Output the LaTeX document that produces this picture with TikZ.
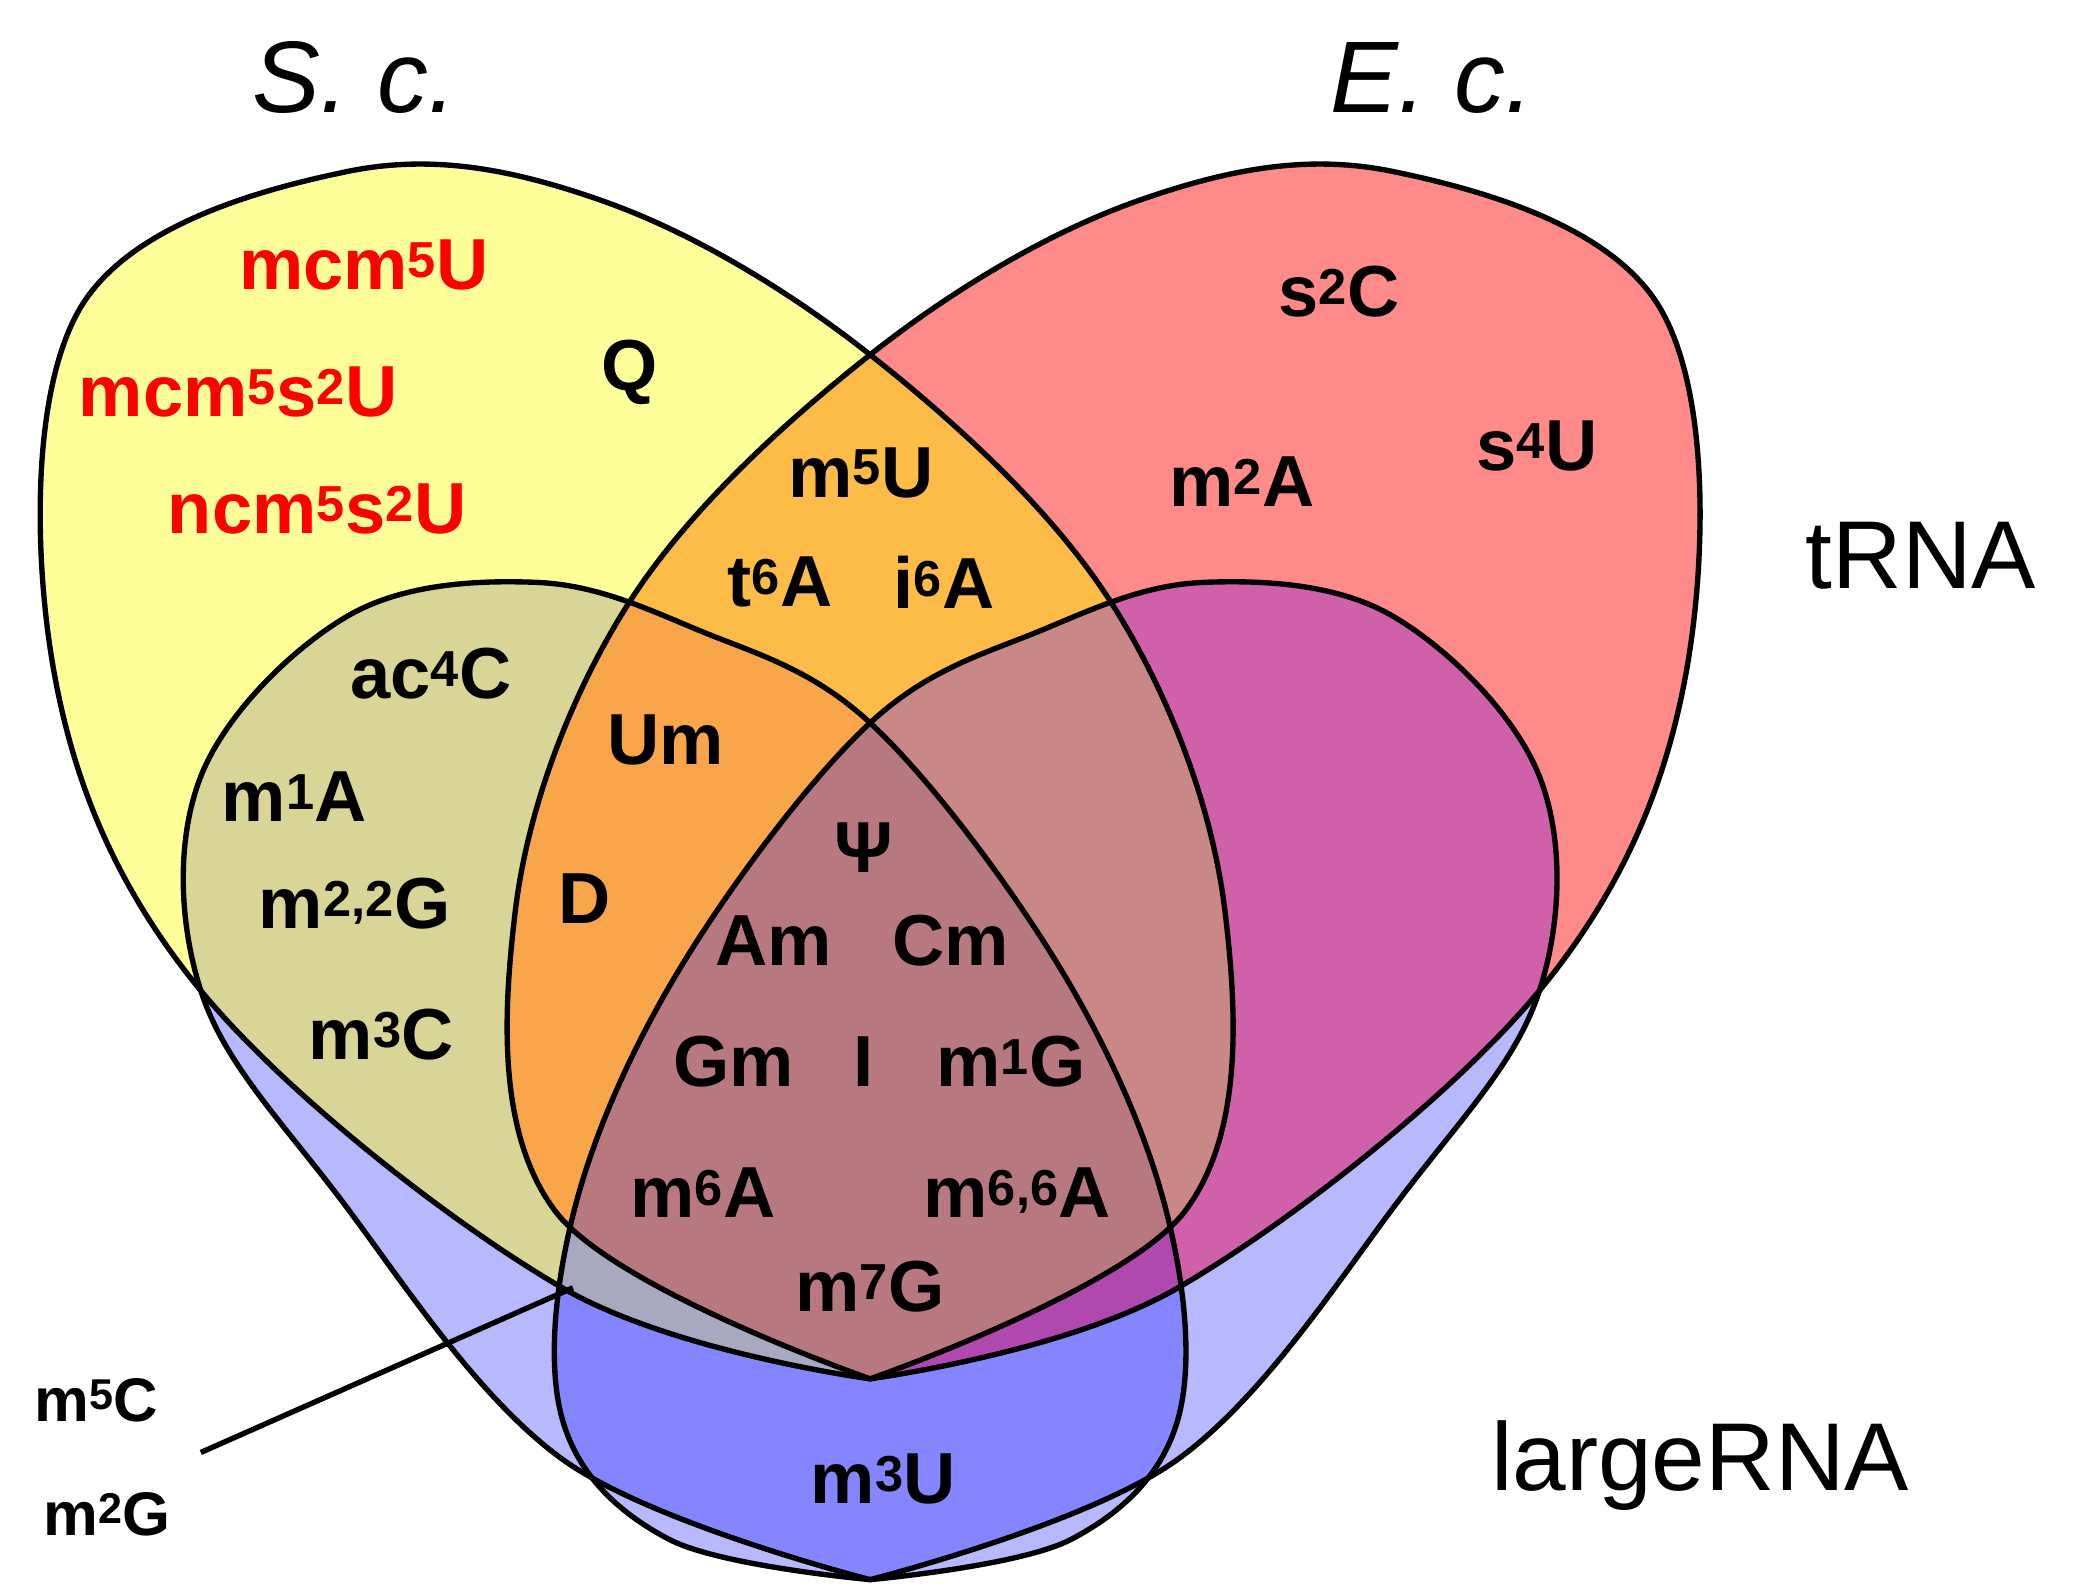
\documentclass[tikz,border=0pt]{standalone}
\usepackage{fontspec}
\setmainfont{Liberation Sans}
\begin{document}
\begin{tikzpicture}[x=1pt,y=-1pt,
  lab/.style={font=\fontsize{54}{60}\selectfont\bfseries,inner sep=0pt},
  redlab/.style={lab,text=red},
  big/.style={font=\fontsize{72}{80}\selectfont,inner sep=0pt},
  outl/.style={draw=black,line width=4pt}]
\useasboundingbox (0,0) rectangle (1568,1186);
\def\pY{plot[smooth,tension=0.6] coordinates {(650,1030) (420,962) (150,740) (40,500) (60,230) (260,128) (450,150) (650,265) (830,450) (915,680) (885,905) (650,1030)} -- cycle}
\def\pR{plot[smooth,tension=0.6] coordinates {(650,1030) (880,962) (1150,740) (1260,500) (1240,230) (1040,128) (850,150) (650,265) (470,450) (385,680) (415,905) (650,1030)} -- cycle}
\def\pS{plot[smooth,tension=0.6] coordinates {(650,1180) (420,1090) (250,890) (150,740) (150,580) (260,460) (400,435) (520,470) (650,540) (790,720) (870,900) (880,1060) (800,1150) (650,1180)} -- cycle}
\def\pE{plot[smooth,tension=0.6] coordinates {(650,1180) (880,1090) (1050,890) (1150,740) (1150,580) (1040,460) (900,435) (780,470) (650,540) (510,720) (430,900) (420,1060) (500,1150) (650,1180)} -- cycle}
\definecolor{cY}{HTML}{FFFF99}
\definecolor{cR}{HTML}{FF8A8A}
\definecolor{cB}{HTML}{B8B8FF}
\definecolor{cBB}{HTML}{8585FF}
\definecolor{cO}{HTML}{FDBB48}
\definecolor{cOl}{HTML}{D8D596}
\definecolor{cGr}{HTML}{A8A8C0}
\definecolor{cM}{HTML}{D060AA}
\definecolor{cP}{HTML}{B048B0}
\definecolor{cOr}{HTML}{F9A64A}
\definecolor{cPk}{HTML}{C98886}
\definecolor{cAll}{HTML}{B77880}
\fill[cB] \pS; \fill[cB] \pE;
\begin{scope}\clip \pS; \fill[cBB] \pE; \end{scope}
\fill[cY] \pY; \fill[cR] \pR;
\begin{scope}\clip \pY; \fill[cO] \pR; \fill[cOl] \pS;
  \begin{scope}\clip \pS; \fill[cGr] \pE; \end{scope}\end{scope}
\begin{scope}\clip \pR; \fill[cM] \pE;
  \begin{scope}\clip \pS; \fill[cP] \pE; \end{scope}\end{scope}
\begin{scope}\clip \pY; \clip \pR; \fill[cOr] \pS; \fill[cPk] \pE;
  \begin{scope}\clip \pS; \fill[cAll] \pE; \end{scope}\end{scope}
\draw[outl] \pS; \draw[outl] \pE; \draw[outl] \pY; \draw[outl] \pR;
\node[big,font=\fontsize{76}{80}\selectfont\itshape] (sc) at (265,58) {S. c.};
\node[big,font=\fontsize{76}{80}\selectfont\itshape] (ec) at (1070,58) {E. c.};
\node[big] (trna) at (1435,415) {tRNA};
\node[big] (lrna) at (1270,1095) {largeRNA};
\node[redlab] (a1) at (272,198) {mcm\textsuperscript{5}U};
\node[redlab] (a2) at (178,293) {mcm\textsuperscript{5}s\textsuperscript{2}U};
\node[redlab] (a3) at (237,380) {ncm\textsuperscript{5}s\textsuperscript{2}U};
\node[lab] (q) at (470,278) {Q};
\node[lab] (s2c) at (1000,218) {s\textsuperscript{2}C};
\node[lab] (s4u) at (1148,333) {s\textsuperscript{4}U};
\node[lab] (m2a) at (928,360) {m\textsuperscript{2}A};
\node[lab] (m5u) at (643,353) {m\textsuperscript{5}U};
\node[lab] (t6a) at (583,435) {t\textsuperscript{6}A};
\node[lab] (i6a) at (705,435) {i\textsuperscript{6}A};
\node[lab] (ac4c) at (322,503) {ac\textsuperscript{4}C};
\node[lab] (um) at (497,553) {Um};
\node[lab] (m1a) at (220,595) {m\textsuperscript{1}A};
\node[lab] (m22g) at (265,675) {m\textsuperscript{2,2}G};
\node[lab] (d) at (437,671) {D};
\node[lab] (psi) at (645,633) {Ψ};
\node[lab] (am) at (578,703) {Am};
\node[lab] (cm) at (710,703) {Cm};
\node[lab] (m3c) at (285,773) {m\textsuperscript{3}C};
\node[lab] (gm) at (548,793) {Gm};
\node[lab] (ii) at (645,793) {I};
\node[lab] (m1g) at (755,793) {m\textsuperscript{1}G};
\node[lab] (m6a) at (525,891) {m\textsuperscript{6}A};
\node[lab] (m66a) at (760,891) {m\textsuperscript{6,6}A};
\node[lab] (m7g) at (650,961) {m\textsuperscript{7}G};
\node[lab] (m3u) at (660,1105) {m\textsuperscript{3}U};
\node[lab,font=\fontsize{46}{50}\selectfont\bfseries] (m5c) at (72,1046) {m\textsuperscript{5}C};
\node[lab,font=\fontsize{46}{50}\selectfont\bfseries] (m2g) at (80,1131) {m\textsuperscript{2}G};
\coordinate (p1) at (150,1085);
\coordinate (p2) at (428,962);
\draw[line width=4pt] (p1) -- (p2);
\end{tikzpicture}
\end{document}
